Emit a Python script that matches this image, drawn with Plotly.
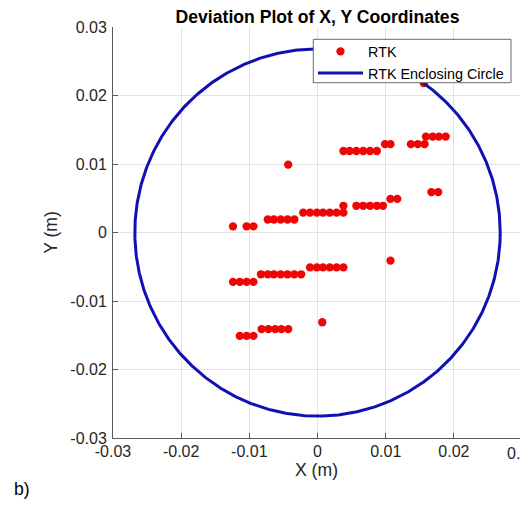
import numpy as np
import plotly.graph_objects as go

# RTK deviation points (m)
rtk_x = [0.0159, 0.0169, 0.0178, 0.0188,
         0.0099, 0.0107, 0.0137, 0.0147, 0.0157,
         0.0038, 0.0047, 0.0057, 0.0067, 0.0077, 0.0087,
         -0.0043, 0.0156,
         0.0167, 0.0177,
         0.0107, 0.0117,
         0.0038, 0.0057, 0.0067, 0.0077, 0.0087, 0.0096,
         -0.0021, -0.0011, -0.0001, 0.0008, 0.0018, 0.0028, 0.0038,
         -0.0073, -0.0064, -0.0054, -0.0044, -0.0034,
         -0.0124, -0.0104, -0.0094,
         0.0107,
         -0.0011, -0.0001, 0.0008, 0.0018, 0.0028, 0.0038,
         -0.0083, -0.0073, -0.0064, -0.0054, -0.0044, -0.0034, -0.0024,
         -0.0124, -0.0114, -0.0104, -0.0094,
         0.0007,
         -0.0082, -0.0072, -0.0062, -0.0053, -0.0043,
         -0.0114, -0.0104, -0.0094]
rtk_y = [0.0140, 0.0140, 0.0140, 0.0140,
         0.0129, 0.0129, 0.0129, 0.0129, 0.0129,
         0.0119, 0.0119, 0.0119, 0.0119, 0.0119, 0.0119,
         0.0099, 0.0218,
         0.0059, 0.0059,
         0.0049, 0.0049,
         0.0039, 0.0039, 0.0039, 0.0039, 0.0039, 0.0039,
         0.0029, 0.0029, 0.0029, 0.0029, 0.0029, 0.0029, 0.0029,
         0.0019, 0.0019, 0.0019, 0.0019, 0.0019,
         0.0009, 0.0009, 0.0009,
         -0.0041,
         -0.0051, -0.0051, -0.0051, -0.0051, -0.0051, -0.0051,
         -0.0061, -0.0061, -0.0061, -0.0061, -0.0061, -0.0061, -0.0061,
         -0.0072, -0.0072, -0.0072, -0.0072,
         -0.0131,
         -0.0141, -0.0141, -0.0141, -0.0141, -0.0141,
         -0.0151, -0.0151, -0.0151]

# Enclosing circle (center, radius)
circle_center = (0.0, 0.0)
circle_radius = 0.0268

ticks = [-0.03, -0.02, -0.01, 0, 0.01, 0.02, 0.03]
tick_text = ["-0.03", "-0.02", "-0.01", "0", "0.01", "0.02", "0.03"]

theta = np.linspace(0, 2 * np.pi, 721)
cx = circle_center[0] + circle_radius * np.cos(theta)
cy = circle_center[1] + circle_radius * np.sin(theta)

FONT = "Liberation Sans, Arial, sans-serif"
AXC = "#262626"

fig = go.Figure()
fig.add_trace(go.Scatter(x=rtk_x, y=rtk_y, mode="markers", name="RTK",
                         marker=dict(color="#ee0505", size=8.3, line=dict(width=0))))
fig.add_trace(go.Scatter(x=cx, y=cy, mode="lines", name="RTK Enclosing Circle",
                         line=dict(color="#1010b4", width=3)))

axis_common = dict(
    tickvals=ticks, ticktext=tick_text,
    showgrid=True, gridcolor="#e2e2e2", gridwidth=1,
    zeroline=False, showline=True, linecolor="#5a5a5a", linewidth=1,
    ticks="inside", ticklen=5, tickcolor="#5a5a5a",
    tickfont=dict(family=FONT, size=16, color=AXC),
    mirror=False,
)

fig.update_layout(
    width=520, height=505,
    margin=dict(l=113, r=0, t=27, b=67),
    paper_bgcolor="white", plot_bgcolor="white",
    title=dict(text="<b>Deviation Plot of X, Y Coordinates</b>",
               font=dict(family=FONT, size=17.6, color="#000000"),
               x=0.5025, xref="paper", xanchor="center",
               y=1 - 17 / 505, yref="container", yanchor="middle"),
    xaxis=dict(range=[-0.03, 0.0297], ticklabelstandoff=-1,
               title=dict(text="X (m)", font=dict(family=FONT, size=17.6, color=AXC), standoff=4),
               **axis_common),
    yaxis=dict(range=[-0.03, 0.03], ticklabelstandoff=2,
               title=dict(text="Y (m)", font=dict(family=FONT, size=17.6, color=AXC), standoff=8),
               **axis_common),
    legend=dict(x=0.4914, y=(438 - 35.5) / 411, xanchor="left", yanchor="top",
                bgcolor="rgba(0,0,0,0)", borderwidth=0,
                font=dict(family=FONT, size=14.4, color="#000000"),
                itemwidth=45, tracegroupgap=0),
    showlegend=True,
)

# legend frame
fig.add_shape(type="rect", xref="paper", yref="paper",
              x0=(313.3 - 113) / 407, x1=(511 - 113) / 407,
              y0=(438 - 82.7) / 411, y1=(438 - 39.3) / 411,
              line=dict(color="#6a6a6a", width=1), fillcolor="white", layer="above")

fig.add_annotation(text="0.03", x=1.005, xref="paper", y=0, yref="paper",
                   yanchor="top", xanchor="center", yshift=-5, showarrow=False,
                   font=dict(family=FONT, size=16, color=AXC))
fig.add_annotation(text="b)", x=(22 - 113) / 407, xref="paper", y=(438 - 489) / 411, yref="paper",
                   xanchor="center", yanchor="middle", showarrow=False,
                   font=dict(family=FONT, size=17.6, color="#000000"))

fig.write_html("out.html")
